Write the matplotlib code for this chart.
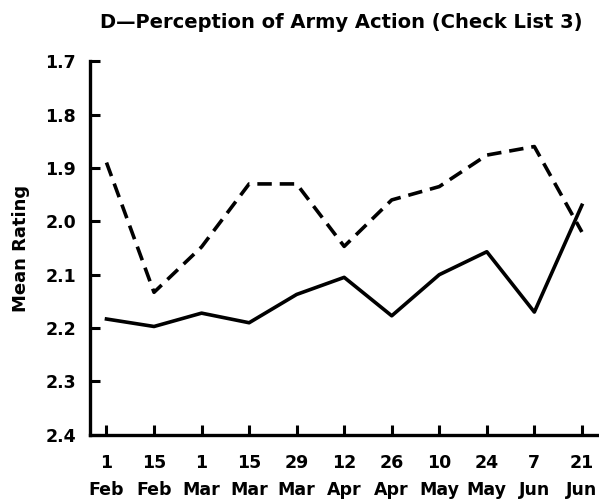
import matplotlib
matplotlib.use("Agg")
from matplotlib import pyplot as plt

# Dates of the check list
days = ["1", "15", "1", "15", "29", "12", "26", "10", "24", "7", "21"]
months = ["Feb", "Feb", "Mar", "Mar", "Mar", "Apr", "Apr", "May", "May", "Jun", "Jun"]

# Mean ratings
dashed_vals = [1.89, 2.133, 2.048, 1.93, 1.93, 2.047, 1.96, 1.935, 1.876, 1.86, 2.02]
solid_vals = [2.183, 2.197, 2.172, 2.19, 2.137, 2.105, 2.177, 2.10, 2.057, 2.17, 1.97]

y_ticks = [1.7, 1.8, 1.9, 2.0, 2.1, 2.2, 2.3, 2.4]

plt.rcParams['font.family'] = ['DejaVu Sans']
plt.rcParams['font.weight'] = 'bold'

fig = plt.figure(figsize=(5.99, 5.01), dpi=100)
ax = fig.add_axes([0.150, 0.132, 0.85, 0.746])

x = range(len(days))
ax.plot(x, dashed_vals, color='black', lw=2.6, linestyle=(0, (4, 2.2)))
ax.plot(x, solid_vals, color='black', lw=2.6)

ax.set_ylim(2.4, 1.7)
ax.set_xlim(-0.35, 10.36)
ax.set_yticks(y_ticks)
ax.set_yticklabels([f"{v:.1f}" for v in y_ticks])
ax.set_xticks(list(x))
ax.set_xticklabels([f"{d}\n{m}" for d, m in zip(days, months)], linespacing=1.6)

for side in ['top', 'right']:
    ax.spines[side].set_visible(False)
for side in ['left', 'bottom']:
    ax.spines[side].set_linewidth(2.4)

ax.tick_params(axis='both', direction='in', length=7, width=2.2,
               labelsize=12.5)
ax.tick_params(axis='x', pad=14)
ax.tick_params(axis='y', pad=10)

ax.set_ylabel("Mean Rating", fontsize=13, fontweight='bold')
ax.yaxis.set_label_coords(-0.118, 0.5)
fig.text(0.569, 0.956, "D\u2014Perception of Army Action (Check List 3)",
         ha='center', va='center', fontsize=14, fontweight='bold')

plt.savefig("out.png", dpi=100)
